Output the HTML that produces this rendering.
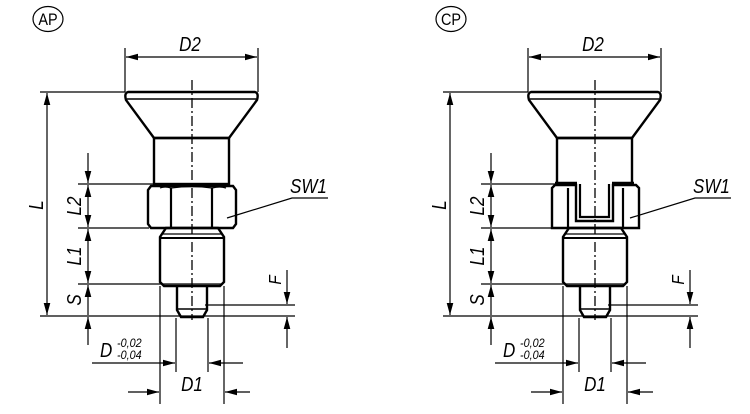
<!DOCTYPE html>
<html><head><meta charset="utf-8"><style>
html,body{margin:0;padding:0;background:#fff;}
svg{display:block;}
text{font-family:"Liberation Sans",sans-serif;font-style:italic;fill:#000;}
</style></head><body>
<svg width="750" height="414" viewBox="0 0 750 414" xmlns="http://www.w3.org/2000/svg">
<defs>
<marker id="a" viewBox="0 0 12 7" refX="12" refY="3.5" markerWidth="12" markerHeight="7" orient="auto-start-reverse" markerUnits="userSpaceOnUse"><path d="M0,0.2 L12,3.5 L0,6.8 Z" fill="#000"/></marker>
<g id="common">
  <!-- D2 -->
  <line x1="125" y1="48" x2="125" y2="92" stroke="#000" stroke-width="1.2"/>
  <line x1="258" y1="48" x2="258" y2="92" stroke="#000" stroke-width="1.2"/>
  <line x1="126" y1="57" x2="257" y2="57" stroke="#000" stroke-width="1.2" marker-start="url(#a)" marker-end="url(#a)"/>
  <text transform="translate(190,51) scale(0.85,1)" font-size="20" text-anchor="middle">D2</text>
  <!-- centerline -->
  <line x1="192" y1="80" x2="192" y2="320" stroke="#000" stroke-width="1.3" stroke-dasharray="10,3,2,3"/>
  <!-- head -->
  <path d="M128,92 L255,92 Q259,93 257,100 L229,138 L154,138 L126,100 Q124,93 128,92 Z" fill="none" stroke="#000" stroke-width="2.4"/>
  <line x1="127" y1="99" x2="256" y2="99" stroke="#000" stroke-width="1.6"/>
  <!-- thread -->
  <path d="M166,228 L218,228 L224,237 L224,282 L220,286 L164,286 L160,282 L160,237 Z" fill="none" stroke="#000" stroke-width="2.4"/>
  <line x1="160" y1="238" x2="224" y2="238" stroke="#000" stroke-width="2"/>
  <line x1="163" y1="234" x2="221" y2="234" stroke="#000" stroke-width="1.2"/>
  <line x1="162" y1="284" x2="222" y2="284" stroke="#000" stroke-width="1.2"/>
  <!-- pin -->
  <path d="M177,286 L177,310 L181,317 L203,317 L207,310 L207,286" fill="none" stroke="#000" stroke-width="2.4"/>
  <line x1="177" y1="309" x2="207" y2="309" stroke="#000" stroke-width="1.6"/>
  <!-- L -->
  <line x1="40" y1="92" x2="125" y2="92" stroke="#000" stroke-width="1.2"/>
  <line x1="40" y1="316" x2="295" y2="316" stroke="#000" stroke-width="1.2"/>
  <line x1="47" y1="93" x2="47" y2="315" stroke="#000" stroke-width="1.2" marker-start="url(#a)" marker-end="url(#a)"/>
  <text transform="translate(43,205) rotate(-90) scale(0.85,1)" font-size="20" text-anchor="middle">L</text>
  <!-- L2 L1 S -->
  <line x1="78" y1="184" x2="153" y2="184" stroke="#000" stroke-width="1.2"/>
  <line x1="78" y1="228" x2="149" y2="228" stroke="#000" stroke-width="1.2"/>
  <line x1="78" y1="284" x2="161" y2="284" stroke="#000" stroke-width="1.2"/>
  <line x1="88" y1="153" x2="88" y2="183" stroke="#000" stroke-width="1.2" marker-end="url(#a)"/>
  <line x1="88" y1="185" x2="88" y2="227" stroke="#000" stroke-width="1.2" marker-start="url(#a)" marker-end="url(#a)"/>
  <line x1="88" y1="229" x2="88" y2="283" stroke="#000" stroke-width="1.2" marker-start="url(#a)" marker-end="url(#a)"/>
  <line x1="88" y1="285" x2="88" y2="315" stroke="#000" stroke-width="1.2" marker-start="url(#a)"/>
  <line x1="88" y1="317" x2="88" y2="345" stroke="#000" stroke-width="1.2" marker-start="url(#a)"/>
  <text transform="translate(81,206) rotate(-90) scale(0.85,1)" font-size="20" text-anchor="middle">L2</text>
  <text transform="translate(81,256) rotate(-90) scale(0.85,1)" font-size="20" text-anchor="middle">L1</text>
  <text transform="translate(81,300) rotate(-90) scale(0.85,1)" font-size="20" text-anchor="middle">S</text>
  <!-- F -->
  <line x1="205" y1="305" x2="295" y2="305" stroke="#000" stroke-width="1.2"/>
  <line x1="287" y1="270" x2="287" y2="304" stroke="#000" stroke-width="1.2" marker-end="url(#a)"/>
  <line x1="287" y1="348" x2="287" y2="317" stroke="#000" stroke-width="1.2" marker-end="url(#a)"/>
  <text transform="translate(281,280) rotate(-90) scale(0.85,1)" font-size="18" text-anchor="middle">F</text>
  <!-- D D1 -->
  <line x1="160" y1="286" x2="160" y2="404" stroke="#000" stroke-width="1.2"/>
  <line x1="224" y1="286" x2="224" y2="404" stroke="#000" stroke-width="1.2"/>
  <line x1="176" y1="318" x2="176" y2="372" stroke="#000" stroke-width="1.2"/>
  <line x1="208" y1="318" x2="208" y2="372" stroke="#000" stroke-width="1.2"/>
  <line x1="92" y1="363" x2="175" y2="363" stroke="#000" stroke-width="1.2" marker-end="url(#a)"/>
  <line x1="243" y1="363" x2="209" y2="363" stroke="#000" stroke-width="1.2" marker-end="url(#a)"/>
  <line x1="128" y1="392" x2="159" y2="392" stroke="#000" stroke-width="1.2" marker-end="url(#a)"/>
  <line x1="250" y1="392" x2="225" y2="392" stroke="#000" stroke-width="1.2" marker-end="url(#a)"/>
  <text transform="translate(100,357) scale(0.85,1)" font-size="20">D</text>
  <text transform="translate(117,347) scale(0.9,1)" font-size="12">-0,02</text>
  <text transform="translate(117,359) scale(0.9,1)" font-size="12">-0,04</text>
  <text transform="translate(192,391) scale(0.85,1)" font-size="20" text-anchor="middle">D1</text>
  <!-- SW1 -->
  <text transform="translate(290,193) scale(0.85,1)" font-size="20">SW1</text>
  <polyline points="227,218 292,198 328,198" fill="none" stroke="#000" stroke-width="1.2"/>
</g>
</defs>

<!-- LEFT AP -->
<ellipse cx="48" cy="19" rx="15" ry="12.5" fill="none" stroke="#000" stroke-width="1.2"/>
<text transform="translate(48,25) scale(0.85,1)" font-size="17" text-anchor="middle" style="font-style:normal">AP</text>
<use href="#common"/>
<rect x="154" y="138" width="75" height="46" fill="none" stroke="#000" stroke-width="2.4"/>
<rect x="153" y="183" width="77" height="3" fill="#000"/>
<path d="M151,186 L233,186 L236,190 L236,224 L233,228 L151,228 L148,224 L148,190 Z" fill="none" stroke="#000" stroke-width="2.4"/>
<line x1="171" y1="188" x2="171" y2="228" stroke="#000" stroke-width="2.2"/>
<line x1="212" y1="188" x2="212" y2="228" stroke="#000" stroke-width="2.2"/>
<path d="M160,188 Q165,186 171,188 M171,188 Q192,185 212,188 M212,188 Q220,186 226,188" fill="none" stroke="#000" stroke-width="1.2"/>

<!-- RIGHT CP -->
<g transform="translate(403,0)">
<ellipse cx="48" cy="19" rx="15" ry="12.5" fill="none" stroke="#000" stroke-width="1.2"/>
<text transform="translate(48,25) scale(0.85,1)" font-size="17" text-anchor="middle" style="font-style:normal">CP</text>
<use href="#common"/>
<path d="M154,184 L154,138 L229,138 L229,184" fill="none" stroke="#000" stroke-width="2.4"/>
<path d="M149,228 L149,188 L152,185 L173,185 L173,221 L210,221 L210,185 L233,185 L236,188 L236,228 Z" fill="none" stroke="#000" stroke-width="2.4"/>
<path d="M152,183 L174,183 M209,183 L231,183" stroke="#000" stroke-width="2.5"/>
<path d="M177,184 L177,217 L206,217 L206,184" fill="none" stroke="#000" stroke-width="2.2"/>
<line x1="165" y1="188" x2="165" y2="228" stroke="#000" stroke-width="2.2"/>
<line x1="220" y1="188" x2="220" y2="228" stroke="#000" stroke-width="2.2"/>
</g>
</svg>
</body></html>
